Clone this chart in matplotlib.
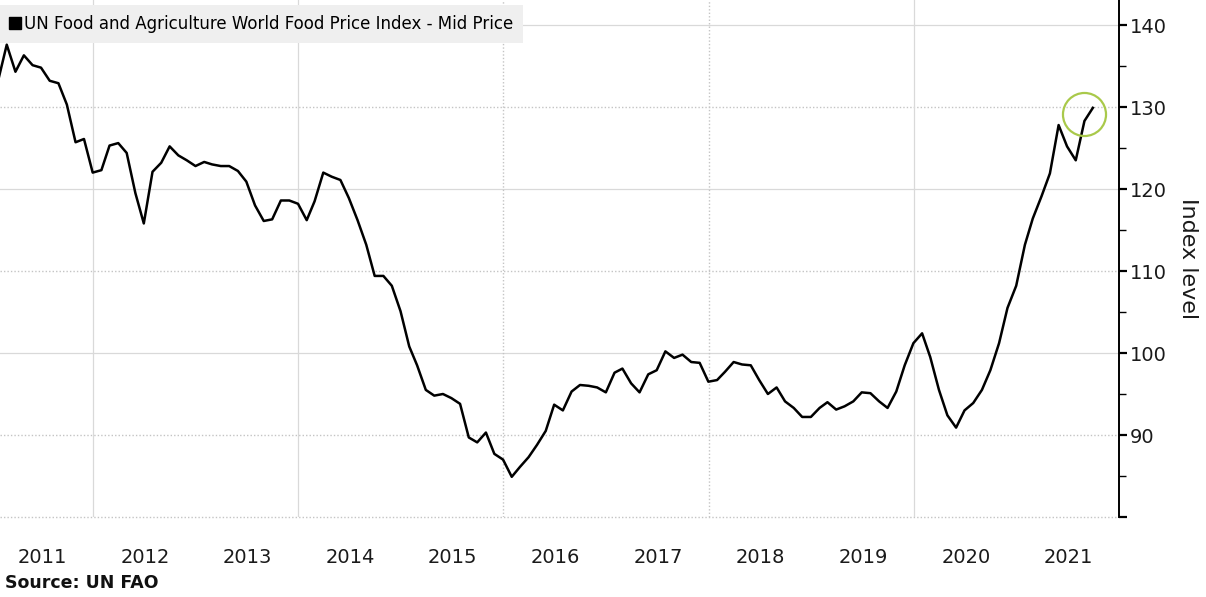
import pandas as pd
import matplotlib
matplotlib.use('Agg')
import matplotlib.pyplot as plt
from matplotlib.lines import Line2D

# FAO food price index, monthly, Jan 2011 .. Sep 2021
VALUES_2011 = [133.6, 137.6, 134.3, 136.3, 135.1, 134.8, 133.2, 132.9, 130.3, 125.7, 126.1, 122.0]
VALUES_2012 = [122.3, 125.3, 125.6, 124.4, 119.5, 115.8, 122.1, 123.2, 125.2, 124.1, 123.5, 122.8]
VALUES_2013 = [123.3, 123.0, 122.8, 122.8, 122.2, 120.9, 118.0, 116.1, 116.3, 118.6, 118.6, 118.2]
VALUES_2014 = [116.2, 118.5, 122.0, 121.5, 121.1, 118.9, 116.2, 113.2, 109.4, 109.4, 108.2, 105.1]
VALUES_2015 = [100.8, 98.5, 95.5, 94.8, 95.0, 94.5, 93.8, 89.7, 89.1, 90.3, 87.7, 87.0]
VALUES_2016 = [84.9, 86.1, 87.3, 88.8, 90.5, 93.7, 93.0, 95.3, 96.1, 96.0, 95.8, 95.2]
VALUES_2017 = [97.6, 98.1, 96.3, 95.2, 97.4, 97.9, 100.2, 99.4, 99.8, 98.9, 98.8, 96.5]
VALUES_2018 = [96.7, 97.7, 98.9, 98.6, 98.5, 96.7, 95.0, 95.8, 94.1, 93.3, 92.2, 92.2]
VALUES_2019 = [93.3, 94.0, 93.1, 93.5, 94.1, 95.2, 95.1, 94.1, 93.3, 95.3, 98.5, 101.2]
VALUES_2020 = [102.4, 99.5, 95.5, 92.4, 90.9, 93.0, 93.9, 95.5, 97.9, 101.2, 105.5, 108.2]
VALUES_2021 = [113.2, 116.4, 119.1, 121.9, 127.8, 125.2, 123.5, 128.3, 129.9]

YEARS = list(range(2011, 2022))
Y_MAJOR = [90, 100, 110, 120, 130, 140]
Y_MINOR = [85, 95, 105, 115, 125, 135]

SERIES_LABEL = 'UN Food and Agriculture World Food Price Index - Mid Price'
Y_LABEL = 'Index level'
SOURCE_TEXT = 'Source: UN FAO'

LINE_COLOR = '#000000'
CIRCLE_COLOR = '#a9c94a'
GRID_COLOR = '#d9d9d9'
DOT_COLOR = '#c4c4c4'


def build_series():
    values = (VALUES_2011 + VALUES_2012 + VALUES_2013 + VALUES_2014 + VALUES_2015 + VALUES_2016
              + VALUES_2017 + VALUES_2018 + VALUES_2019 + VALUES_2020 + VALUES_2021)
    dates = pd.date_range('2011-01-31', periods=len(values), freq='ME')
    return pd.Series(values, index=dates)


def draw_grid(ax):
    # horizontal lines alternate solid / dotted like the terminal chart
    for v in [80] + Y_MAJOR:
        if v in (100, 120, 140):
            ax.axhline(v, color=GRID_COLOR, linewidth=0.9, zorder=0, clip_on=False)
        else:
            ax.axhline(v, color=DOT_COLOR, linewidth=1.0, linestyle=(0, (1, 1.5)),
                       zorder=0, clip_on=False)
    for yr in range(2012, 2022, 2):
        when = pd.Timestamp(f'{yr}-01-01')
        if yr in (2012, 2014, 2020):
            ax.axvline(when, color=GRID_COLOR, linewidth=0.9, zorder=0)
        else:
            ax.axvline(when, color=DOT_COLOR, linewidth=1.0, linestyle=(0, (1, 1.5)), zorder=0)


def plot_chart(series):
    fig = plt.figure(figsize=(12.06, 5.97), dpi=100)
    ax = fig.add_axes([0.0, 80 / 597, 1119 / 1206, 517 / 597])

    ax.plot(series.index, series.values, color=LINE_COLOR, linewidth=1.8, zorder=3)

    # highlight ring around the latest readings
    ring_x = series.index[-2]
    ring_y = series.values[-2:].mean()
    ax.plot([ring_x], [ring_y], marker='o', markersize=31, markerfacecolor='none',
            markeredgecolor=CIRCLE_COLOR, markeredgewidth=1.6, zorder=4)

    ax.set_xlim(pd.Timestamp('2011-02-04'), pd.Timestamp('2022-01-01'))
    ax.set_ylim(80, 143.05)

    draw_grid(ax)

    for side in ('top', 'left', 'bottom'):
        ax.spines[side].set_visible(False)
    ax.spines['right'].set_linewidth(1.4)
    ax.spines['right'].set_color('#000000')

    ax.yaxis.tick_right()
    ax.yaxis.set_label_position('right')
    ax.set_yticks([80] + Y_MAJOR)
    ax.set_yticklabels([''] + [str(v) for v in Y_MAJOR])
    ax.set_yticks(Y_MINOR, minor=True)
    ax.tick_params(axis='y', which='major', length=6, width=1.6, pad=2,
                   labelsize=14, labelcolor='#1a1a1a')
    ax.tick_params(axis='y', which='minor', length=5, width=1.0)
    ax.set_ylabel(Y_LABEL, rotation=270, fontsize=16, labelpad=22, color='#1a1a1a')

    ax.set_xticks([pd.Timestamp(f'{yr}-07-05') for yr in YEARS])
    ax.set_xticklabels([str(yr) for yr in YEARS])
    ax.tick_params(axis='x', length=0, pad=22, labelsize=14, labelcolor='#1a1a1a')

    handle = Line2D([], [], color='#000000', marker='s', linestyle='none', markersize=9)
    leg = ax.legend([handle], [SERIES_LABEL], loc='upper left', bbox_to_anchor=(0.0, 0.99),
                    borderaxespad=0, frameon=True, fancybox=False, fontsize=12,
                    handlelength=0.6, handletextpad=0.25, borderpad=0.6)
    leg.get_frame().set_facecolor('#efefef')
    leg.get_frame().set_edgecolor('none')
    leg.get_frame().set_alpha(1)

    fig.text(5 / 1206, 1 - 583 / 597, SOURCE_TEXT, fontsize=12.5, fontweight='bold',
             va='center', ha='left', color='#111111')

    fig.savefig('out.png', dpi=100, facecolor='white')
    plt.close(fig)


if __name__ == '__main__':
    plot_chart(build_series())
